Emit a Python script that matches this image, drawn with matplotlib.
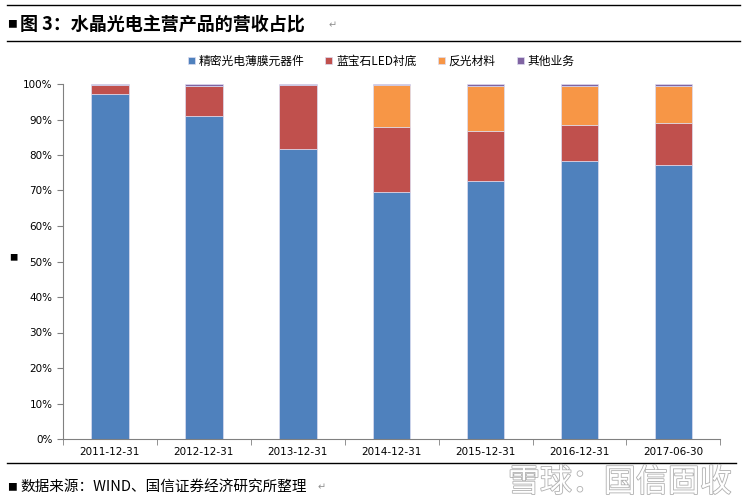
import numpy as np
import matplotlib.pyplot as plt
import matplotlib.patheffects as pe

plt.rcParams['font.family'] = ['Noto Sans CJK SC', 'DejaVu Sans']

dates = ['2011-12-31', '2012-12-31', '2013-12-31', '2014-12-31',
         '2015-12-31', '2016-12-31', '2017-06-30']
series_names = ['精密光电薄膜元器件', '蓝宝石LED衬底', '反光材料', '其他业务']
film = [97.1, 90.9, 81.8, 69.7, 72.7, 78.2, 77.3]
sapphire = [2.6, 8.5, 17.8, 18.2, 14.1, 10.3, 11.8]
reflect = [0.0, 0.0, 0.0, 11.7, 12.6, 11.0, 10.3]
other = [0.3, 0.6, 0.4, 0.4, 0.6, 0.5, 0.6]
colors = ['#4F81BD', '#C0504D', '#F79646', '#8064A2']

fig = plt.figure(figsize=(7.47, 5.0), dpi=100)
ax = fig.add_axes([0.0843, 0.122, 0.88, 0.71])

x = np.arange(len(dates))
bottom = np.zeros(len(dates))
for name, vals, c in zip(series_names, [film, sapphire, reflect, other], colors):
    vals = np.array(vals)
    ax.bar(x, vals, 0.4, bottom=bottom, color=c, label=name,
           edgecolor='#dcdcf0', linewidth=0.5)
    bottom += vals

ax.set_xlim(-0.5, len(dates) - 0.5)
ax.set_ylim(0, 100)
ax.set_yticks(np.arange(0, 101, 10))
ax.set_yticklabels([f'{v}%' for v in range(0, 101, 10)], fontsize=7.5,
                   family=['DejaVu Sans'])
ax.set_xticks(x)
ax.set_xticklabels(dates, fontsize=7.5, family=['DejaVu Sans'])
ax.set_xticks(np.arange(-0.5, len(dates)), minor=True)
ax.tick_params(axis='x', which='major', length=0, pad=6)
ax.tick_params(axis='x', which='minor', length=4, color='#808080')
ax.tick_params(axis='y', length=4, color='#808080')
for s in ['top', 'right']:
    ax.spines[s].set_visible(False)
ax.spines['left'].set_color('#808080')
ax.spines['bottom'].set_color('#808080')

leg = fig.legend(loc='center', bbox_to_anchor=(0.51, 0.878), ncol=4,
                 frameon=False, fontsize=8.5, handlelength=0.6, handleheight=0.6,
                 handletextpad=0.3, columnspacing=1.8)

# header / footer
fig.add_artist(plt.Line2D([0.01, 0.99], [0.99, 0.99], color='black', lw=1))
fig.add_artist(plt.Line2D([0.01, 0.99], [0.918, 0.918], color='black', lw=1))
fig.text(0.01, 0.952, '■', fontsize=7, va='center')
fig.text(0.027, 0.952, '图 3：水晶光电主营产品的营收占比', fontsize=13,
         fontweight='bold', va='center')
fig.text(0.44, 0.950, '↵', fontsize=7, color='#909090', va='center',
         family=['DejaVu Sans'])
fig.text(0.012, 0.485, '■', fontsize=6, va='center')
fig.add_artist(plt.Line2D([0.01, 0.985], [0.075, 0.075], color='black', lw=1))
fig.text(0.01, 0.025, '■', fontsize=7, va='center')
fig.text(0.027, 0.025, '数据来源：WIND、国信证券经济研究所整理', fontsize=10.5,
         va='center')
fig.text(0.425, 0.025, '↵', fontsize=7, color='#909090', va='center',
         family=['DejaVu Sans'])
wm = fig.text(0.98, 0.035, '雪球：国信固收', fontsize=23, color='white',
              ha='right', va='center')
wm.set_path_effects([pe.withStroke(linewidth=1.2, foreground='#b0b0b0')])

fig.savefig('out.png', dpi=100)
